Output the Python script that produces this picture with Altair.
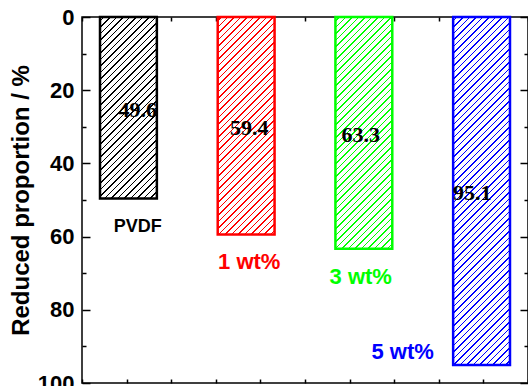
import altair as alt
import pandas as pd

# Reduced proportion for neat PVDF and the three filler loadings
labels = ["PVDF", "1 wt%", "3 wt%", "5 wt%"]
reduced = [49.6, 59.4, 63.3, 95.1]
colors = ["#000000", "#ff0000", "#00ff00", "#0000ff"]

y_major = [0, 20, 40, 60, 80, 100]
y_minor = [10, 30, 50, 70, 90]
x_minor = list(range(11))

W, H = 446, 366
PAD_IN, PAD_OUT = 0.517, 0.153
SANS = "Liberation Sans"
SERIF = "Liberation Serif"

df = pd.DataFrame({"label": labels, "value": reduced})
df["mid"] = df["value"] / 2
ticks_df = pd.DataFrame({"t": [x_minor[0], x_minor[-1]]})

yscale = alt.Scale(domain=[0, 100], reverse=True, nice=False)
xband = alt.Scale(domain=labels, paddingInner=PAD_IN, paddingOuter=PAD_OUT)
xlin = alt.Scale(domain=[x_minor[0], x_minor[-1]], nice=False)

# band geometry, used to size the diagonal hatch of each bar
step = W / (len(labels) - PAD_IN + 2 * PAD_OUT)
bw = step * (1 - PAD_IN)


def hatch(color, w, h, period=6.5, line=1.4):
    """Linear gradient with hard stops that draws '/' hatching inside a w x h box."""
    total = w + h
    a = total / (w * w + h * h)
    stops = [alt.GradientStop(offset=0, color="white")]
    s = period / 2
    while s < total:
        t0 = round(s / total, 5)
        t1 = round(min((s + line) / total, 1), 5)
        stops += [
            alt.GradientStop(offset=t0, color="white"),
            alt.GradientStop(offset=t0, color=color),
            alt.GradientStop(offset=t1, color=color),
            alt.GradientStop(offset=t1, color="white"),
        ]
        s += period
    stops.append(alt.GradientStop(offset=1, color="white"))
    return alt.LinearGradient(gradient="linear", stops=stops,
                              x1=0, y1=0, x2=a * w, y2=a * h)


tick_common = dict(domain=False, grid=False, labels=False, title=None,
                   tickColor="black", tickWidth=1.5)

main_axis = alt.Axis(orient="left", values=y_major, tickSize=8, offset=-8,
                     domain=False, grid=False, labelPadding=8,
                     labelFont=SANS, labelFontSize=22, labelFontWeight="bold",
                     labelColor="black", labelOverlap=False, labelFlush=False,
                     tickColor="black", tickWidth=1.5, title=None)

layers = []

# hatched bars hanging from the top of the frame
for i, (lab, val, col) in enumerate(zip(labels, reduced, colors)):
    h = val / 100 * H
    layers.append(
        alt.Chart(df)
        .transform_filter(alt.datum.label == lab)
        .mark_bar(fill=hatch(col, bw, h), stroke=col, strokeWidth=2.5)
        .encode(
            x=alt.X("label:N", scale=xband, axis=None),
            y=alt.Y("value:Q", scale=yscale, axis=main_axis if i == 0 else None),
        )
    )

# value labels in the middle of each bar
layers.append(
    alt.Chart(df)
    .mark_text(font=SERIF, fontWeight="bold", fontSize=22, baseline="middle",
               dy=2, color="black")
    .encode(
        x=alt.X("label:N", scale=xband, axis=None),
        y=alt.Y("mid:Q", scale=yscale, axis=None),
        text=alt.Text("value:Q", format=".1f"),
    )
)

color_scale = alt.Scale(domain=labels, range=colors)

# sample names under the bars
layers.append(
    alt.Chart(df)
    .transform_filter(alt.datum.label == labels[0])
    .mark_text(font=SANS, fontWeight="bold", fontSize=18, baseline="middle", dy=28)
    .encode(
        x=alt.X("label:N", scale=xband, axis=None),
        y=alt.Y("value:Q", scale=yscale, axis=None),
        text="label:N",
        color=alt.Color("label:N", scale=color_scale, legend=None),
    )
)
layers.append(
    alt.Chart(df)
    .transform_filter(alt.FieldOneOfPredicate(field="label", oneOf=labels[1:3]))
    .mark_text(font=SANS, fontWeight="bold", fontSize=22, baseline="middle", dy=28)
    .encode(
        x=alt.X("label:N", scale=xband, axis=None),
        y=alt.Y("value:Q", scale=yscale, axis=None),
        text="label:N",
        color=alt.Color("label:N", scale=color_scale, legend=None),
    )
)
layers.append(
    alt.Chart(df)
    .transform_filter(alt.datum.label == labels[3])
    .mark_text(font=SANS, fontWeight="bold", fontSize=22, baseline="middle",
               align="right", dx=-(bw / 2 + 10), dy=-13)
    .encode(
        x=alt.X("label:N", scale=xband, axis=None),
        y=alt.Y("value:Q", scale=yscale, axis=None),
        text="label:N",
        color=alt.Color("label:N", scale=color_scale, legend=None),
    )
)


def y_axis_layer(axis):
    return alt.Chart(df).mark_point(opacity=0).encode(
        y=alt.Y("value:Q", scale=yscale, axis=axis))


def x_axis_layer(axis):
    return alt.Chart(ticks_df).mark_point(opacity=0).encode(
        x=alt.X("t:Q", scale=xlin, axis=axis))


# axis title
layers.append(y_axis_layer(alt.Axis(
    orient="left", ticks=False, labels=False, domain=False, grid=False,
    title="Reduced proportion / %", titleFont=SANS, titleFontSize=24,
    titleFontWeight="bold", titleColor="black", titleAngle=270,
    titleX=-61, titleY=H / 2, titleAlign="center", titleBaseline="middle")))
# inward minor ticks on the left, inward major and minor ticks on the right
layers.append(y_axis_layer(alt.Axis(orient="left", values=y_minor, tickSize=4,
                                    offset=-4, **tick_common)))
layers.append(y_axis_layer(alt.Axis(orient="right", values=y_major, tickSize=8,
                                    offset=-8, **tick_common)))
layers.append(y_axis_layer(alt.Axis(orient="right", values=y_minor, tickSize=4,
                                    offset=-4, **tick_common)))
# inward ticks along the bottom and top edges
layers.append(x_axis_layer(alt.Axis(orient="bottom", values=x_minor, tickSize=4,
                                    offset=-4, **tick_common)))
layers.append(x_axis_layer(alt.Axis(orient="top", values=x_minor, tickSize=4,
                                    offset=-4, **tick_common)))

chart = (
    alt.layer(*layers)
    .resolve_scale(x="independent")
    .resolve_axis(x="independent", y="independent")
    .properties(width=W, height=H, autosize="none",
                padding={"left": 82, "top": 17, "right": 0, "bottom": 3},
                background="white")
    .configure_view(stroke="black", strokeWidth=1.5)
)

chart.save("out.html", embed_options={"renderer": "svg", "actions": False})
